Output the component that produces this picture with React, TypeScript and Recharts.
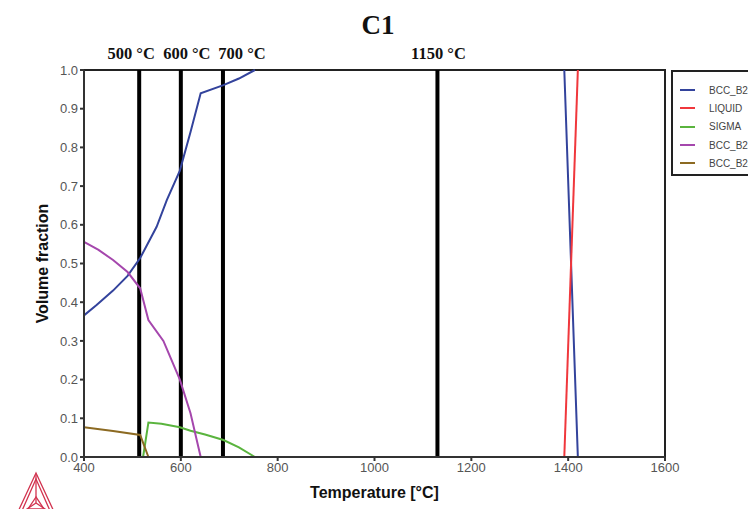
import React from "react"
import {
  Line,
  LineChart,
  ReferenceArea,
  ReferenceLine,
  XAxis,
  YAxis,
} from "recharts"

// BCC_B2#2 (null breaks the line where it runs along the top frame)
const bcc22Temp = [400, 426, 460, 490, 516, 550, 571, 598, 620, 641, 688, 720, 753, 1000, 1392, 1420]
const bcc22Frac = [0.366, 0.393, 0.43, 0.468, 0.514, 0.595, 0.664, 0.74, 0.84, 0.94, 0.961, 0.978, 1.0, null, 1.0, 0.0]

const liquidTemp = [1392, 1420]
const liquidFrac = [0.0, 1.0]

const sigmaTemp = [522, 533, 560, 598, 620, 650, 688, 720, 753]
const sigmaFrac = [0.0, 0.089, 0.086, 0.077, 0.068, 0.058, 0.044, 0.025, 0.0]

const bcc2Temp = [400, 430, 460, 490, 516, 533, 564, 598, 620, 641]
const bcc2Frac = [0.556, 0.535, 0.509, 0.478, 0.436, 0.354, 0.3, 0.2, 0.113, 0.0]

const bcc23Temp = [400, 460, 516, 533]
const bcc23Frac = [0.077, 0.067, 0.057, 0.0]

const markerTemps = [514, 600, 687, 1130]
const markerLabels = ["500 °C", "600 °C", "700 °C", "1150 °C"]
const markerShift = [-8, 6, 19, 1]

const xTicks = [400, 600, 800, 1000, 1200, 1400, 1600]
const yTicks = [0, 0.1, 0.2, 0.3, 0.4, 0.5, 0.6, 0.7, 0.8, 0.9, 1.0]

const zip = (t: number[], v: (number | null)[]) => t.map((x, i) => ({ t: x, v: v[i] }))

const series = [
  { name: "BCC_B2#2", color: "#33439c", data: zip(bcc22Temp, bcc22Frac) },
  { name: "LIQUID", color: "#f0373c", data: zip(liquidTemp, liquidFrac) },
  { name: "SIGMA", color: "#5ab43e", data: zip(sigmaTemp, sigmaFrac) },
  { name: "BCC_B2", color: "#a547ad", data: zip(bcc2Temp, bcc2Frac) },
  { name: "BCC_B2#3", color: "#8c6a22", data: zip(bcc23Temp, bcc23Frac) },
]

const sans = "'Liberation Sans', Arial, sans-serif"
const serif = "'Liberation Serif', 'Times New Roman', serif"

// legend box runs off the right edge of the picture, as in the original
function LegendBox() {
  return (
    <div
      style={{
        position: "absolute",
        left: 671,
        top: 70,
        width: 78,
        borderTop: "2px solid #222",
        borderLeft: "2px solid #222",
        borderBottom: "2px solid #222",
        background: "#fff",
        padding: "9px 0 2px 7px",
        fontFamily: sans,
        fontSize: 10,
        color: "#444",
        whiteSpace: "nowrap",
        overflow: "hidden",
      }}
    >
      {series.map((s) => (
        <div key={s.name} style={{ display: "flex", alignItems: "center", height: 18.3 }}>
          <span style={{ flex: "none", width: 15, height: 2, background: s.color, marginRight: 14 }} />
          <span style={{ flex: "none" }}>{s.name}</span>
        </div>
      ))}
    </div>
  )
}

function Logo() {
  const c = "#d2334f"
  return (
    <svg width={46} height={48} style={{ position: "absolute", left: 13, top: 471 }}>
      <g fill="none" stroke={c} strokeWidth={1.3}>
        <polygon points="23,2 3,45 43,45" />
        <polygon points="23,8 8,42 38,42" />
        <line x1={23} y1={4} x2={23} y2={32} />
        <line x1={23} y1={32} x2={5} y2={44} />
        <line x1={23} y1={32} x2={41} y2={44} />
        <polygon points="23,26 15,38 31,38" />
      </g>
    </svg>
  )
}

export default function App() {
  return (
    <div style={{ position: "relative", margin: -8, width: 756, height: 517, background: "#fff" }}>
      <div
        style={{
          position: "absolute",
          left: 0,
          width: 756,
          top: 10,
          textAlign: "center",
          fontFamily: serif,
          fontWeight: "bold",
          fontSize: 27,
          color: "#111",
        }}
      >
        C1
      </div>
      <LineChart
        width={756}
        height={517}
        margin={{ top: 70, right: 91, bottom: 30, left: 30 }}
        style={{ position: "absolute", left: 0, top: 0 }}
      >
        <XAxis
          type="number"
          dataKey="t"
          domain={[400, 1600]}
          ticks={xTicks}
          allowDataOverflow
          height={30}
          stroke="#333"
          strokeWidth={2}
          tickSize={4}
          tick={{ fill: "#555", fontSize: 13, fontFamily: sans }}
          label={{
            value: "Temperature [°C]",
            position: "bottom",
            offset: 0,
            style: { fill: "#111", fontSize: 16, fontWeight: "bold", fontFamily: sans },
          }}
        />
        <YAxis
          type="number"
          domain={[0, 1]}
          ticks={yTicks}
          width={54}
          stroke="#333"
          strokeWidth={2}
          tickSize={4}
          tickFormatter={(v: number) => v.toFixed(1)}
          tick={{ fill: "#555", fontSize: 13, fontFamily: sans }}
          label={{
            value: "Volume fraction",
            angle: -90,
            position: "insideLeft",
            offset: 12,
            style: { textAnchor: "middle", fill: "#111", fontSize: 16, fontWeight: "bold", fontFamily: sans },
          }}
        />
        <ReferenceArea x1={400} x2={1600} y1={0} y2={1} fill="none" stroke="#222" strokeWidth={2} />
        {markerTemps.map((t, i) => (
          <ReferenceLine
            key={t}
            x={t}
            stroke="#000"
            strokeWidth={4}
            label={{
              value: markerLabels[i],
              position: "top",
              offset: 11,
              dx: markerShift[i],
              style: { fill: "#111", fontSize: 16.5, fontWeight: "bold", fontFamily: serif },
            }}
          />
        ))}
        {series.map((s) => (
          <Line
            key={s.name}
            name={s.name}
            data={s.data}
            dataKey="v"
            type="linear"
            stroke={s.color}
            strokeWidth={2}
            dot={false}
            connectNulls={false}
            isAnimationActive={false}
          />
        ))}
      </LineChart>
      <LegendBox />
      <Logo />
    </div>
  )
}
